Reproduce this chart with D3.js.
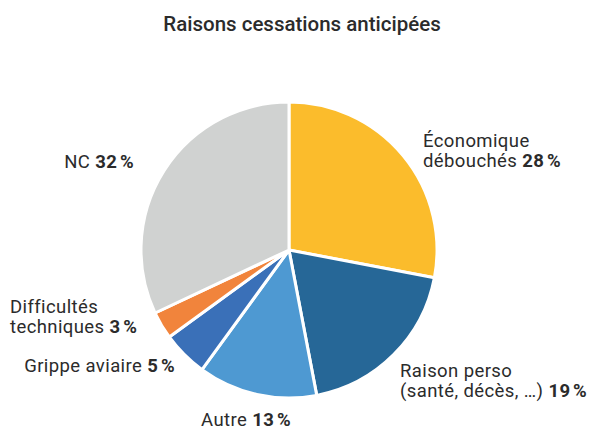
<!DOCTYPE html>
<html>
<head>
<meta charset="utf-8">
<script src="https://cdn.jsdelivr.net/npm/d3@7"></script>
<style>
  body { margin: 0; background: #fff; }
  text { font-family: Roboto, "DejaVu Sans", sans-serif; fill: #2b2b2b; }
</style>
</head>
<body>
<script>
// data
var categories = ["Économique débouchés", "Raison perso (santé, décès, …)", "Autre", "Grippe aviaire", "Difficultés techniques", "NC"];
var values = [28, 19, 13, 5, 3, 32];
var colors = ["#fbbc2c", "#266797", "#4e99d2", "#3a70b8", "#f1843c", "#d0d2d1"];

// label lines (bold percent goes after the last line)
var labelLines = [
  ["Économique", "débouchés"],
  ["Raison perso", "(santé, décès, …)"],
  ["Autre"],
  ["Grippe aviaire"],
  ["Difficultés", "techniques"],
  ["NC"]
];

// where each label sits (x, baseline of first line, anchor)
var labelPos = [
  { x: 423, y: 147, anchor: "start" },
  { x: 400, y: 377, anchor: "start" },
  { x: 246, y: 426, anchor: "middle" },
  { x: 175, y: 372, anchor: "end" },
  { x: 10, y: 313, anchor: "start" },
  { x: 134, y: 168, anchor: "end" }
];

var width = 591, height = 431;
var cx = 289, cy = 250, radius = 148;

var svg = d3.select("body").append("svg")
    .attr("width", width)
    .attr("height", height);

svg.append("text")
    .attr("x", 302)
    .attr("y", 31)
    .attr("text-anchor", "middle")
    .attr("font-size", "20.5px")
    .attr("font-weight", 500)
    .text("Raisons cessations anticipées");

var pie = d3.pie().sort(null);
var arc = d3.arc().innerRadius(0).outerRadius(radius);

var g = svg.append("g")
    .attr("transform", "translate(" + cx + "," + cy + ")");

g.selectAll("path")
    .data(pie(values))
    .enter()
    .append("path")
    .attr("d", arc)
    .attr("fill", function(d, i) { return colors[i]; })
    .attr("stroke", "#fff")
    .attr("stroke-width", 3)
    .attr("stroke-linejoin", "round");

// labels
var labels = svg.selectAll("text.lbl")
    .data(values)
    .enter()
    .append("text")
    .attr("class", "lbl")
    .attr("font-size", "18.5px")
    .attr("letter-spacing", "0.4px")
    .attr("text-anchor", function(d, i) { return labelPos[i].anchor; });

labels.each(function(d, i) {
  var t = d3.select(this);
  var lines = labelLines[i];
  lines.forEach(function(line, j) {
    t.append("tspan")
        .attr("x", labelPos[i].x)
        .attr("y", labelPos[i].y + j * 20)
        .text(line + " ");
    if (j == lines.length - 1) {
      t.append("tspan")
        .attr("font-weight", "bold")
        .text(d + "\u202F%");
    }
  });
});
</script>
</body>
</html>
